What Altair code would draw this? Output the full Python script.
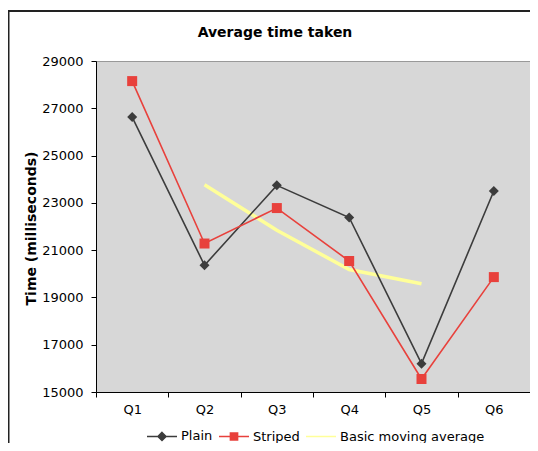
import altair as alt
import pandas as pd

quarters = ["Q1", "Q2", "Q3", "Q4", "Q5", "Q6"]
plain = [26630, 20360, 23740, 22380, 16200, 23500]
striped = [28150, 21280, 22780, 20540, 15550, 19860]
ma_quarters = ["Q2", "Q3", "Q4", "Q5"]
moving_avg = [23770, 21840, 20180, 19580]

series_names = ["Plain", "Striped", "Basic moving average"]
series_colors = ["#3C3C3C", "#E8413C", "#FFFF99"]
title_text = "Average time taken"

FONT = "DejaVu Sans"

df_plain = pd.DataFrame({"q": quarters, "v": plain})
df_striped = pd.DataFrame({"q": quarters, "v": striped})
df_ma = pd.DataFrame({"q": ma_quarters, "v": moving_avg})
df_leg = pd.DataFrame({"q": ["Q1"] * 3, "v": [20000] * 3, "series": series_names})

xenc = alt.X("q:N", sort=quarters, title=None,
             scale=alt.Scale(type="band", domain=quarters, paddingInner=0, paddingOuter=0),
             axis=alt.Axis(labelAngle=0, tickBand="extent", labelPadding=6))
yenc = alt.Y("v:Q", title="Time (milliseconds)",
             scale=alt.Scale(domain=[15000, 29000], nice=False, zero=False),
             axis=alt.Axis(values=[15000, 17000, 19000, 21000, 23000, 25000, 27000, 29000],
                           format="d", grid=False, labelPadding=8,
                           titleX=-61, titleY=167, titleBaseline="alphabetic", titleAngle=-90))

line_plain = alt.Chart(df_plain).mark_line(color=series_colors[0], strokeWidth=1.6).encode(x=xenc, y=yenc)
line_striped = alt.Chart(df_striped).mark_line(color=series_colors[1], strokeWidth=1.6).encode(x=xenc, y=yenc)
line_ma = alt.Chart(df_ma).mark_line(color=series_colors[2], strokeWidth=3.5).encode(x=xenc, y=yenc)
pts_plain = alt.Chart(df_plain).mark_point(shape="diamond", filled=True, size=100, opacity=1,
                                           color=series_colors[0]).encode(x=xenc, y=yenc)
pts_striped = alt.Chart(df_striped).mark_point(shape="square", filled=True, size=100, opacity=1,
                                               color=series_colors[1]).encode(x=xenc, y=yenc)

shape_paths = [
    "M-1,0H1M0,-0.27L0.27,0L0,0.27L-0.27,0Z",
    "M-1,0H1M-0.24,-0.24H0.24V0.24H-0.24Z",
    "M-1,0H1",
]

legend = alt.Legend(title=None, orient="none", direction="horizontal", legendX=50, legendY=359,
                    symbolSize=900, symbolOpacity=1, labelFont=FONT, labelFontSize=13,
                    labelColor="#000000", labelOffset=3, columnPadding=3)

leg_layer = alt.Chart(df_leg).mark_point(opacity=0).encode(
    x=xenc, y=yenc,
    color=alt.Color("series:N", scale=alt.Scale(domain=series_names, range=series_colors), legend=legend),
    fill=alt.Fill("series:N", scale=alt.Scale(domain=series_names, range=series_colors), legend=legend),
    shape=alt.Shape("series:N", scale=alt.Scale(domain=series_names, range=shape_paths), legend=legend),
    strokeWidth=alt.StrokeWidth("series:N", scale=alt.Scale(domain=series_names, range=[1.5, 1.5, 3]),
                                legend=legend),
)

frame_df = pd.DataFrame({"a": [0]})
frame_left = alt.Chart(frame_df).mark_rule(color="#222222", strokeWidth=1.5).encode(
    x=alt.value(-87.25), y=alt.value(-50), y2=alt.value(400))
frame_top = alt.Chart(frame_df).mark_rule(color="#222222", strokeWidth=1.8).encode(
    x=alt.value(-88), x2=alt.value(460), y=alt.value(-50))
title_mark = alt.Chart(frame_df).mark_text(
    text=title_text, font=FONT, fontSize=14, fontWeight="bold", color="#000000",
    align="center", baseline="alphabetic").encode(x=alt.value(179), y=alt.value(-24))

chart = alt.layer(frame_left, frame_top, title_mark, line_ma, line_plain, line_striped,
                  pts_plain, pts_striped, leg_layer).properties(
    width=434, height=331,
    autosize=alt.AutoSizeParams(type="none"),
    padding={"left": 88, "top": 53, "right": 0, "bottom": 51},
    background="#FFFFFF",
).configure_view(
    fill="#D7D7D7", stroke="#999999", strokeWidth=1
).configure_axis(
    domainColor="#000000", domainWidth=1, tickColor="#000000", tickSize=5, tickWidth=1,
    labelFont=FONT, labelFontSize=13, labelColor="#000000",
    titleFont=FONT, titleFontSize=14, titleFontWeight="bold", titleColor="#000000"
)

chart.save("out.html", embed_options={"renderer": "svg", "actions": False})
